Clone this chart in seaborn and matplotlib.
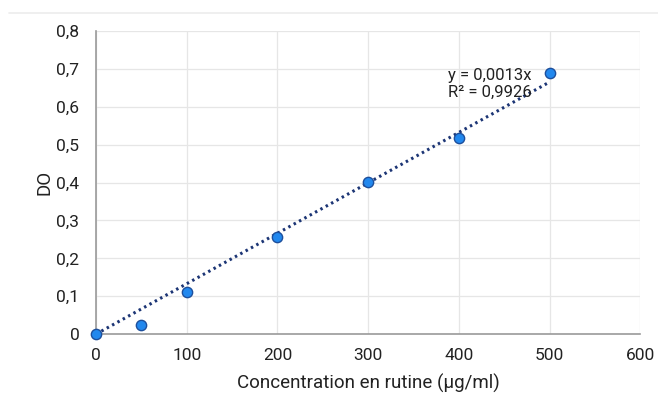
import matplotlib
matplotlib.use("Agg")
import matplotlib.pyplot as plt
import numpy as np
import pandas as pd
import seaborn as sns

# data
concentration = [0, 50, 100, 200, 300, 400, 500]
absorbance = [0.0, 0.023, 0.111, 0.256, 0.401, 0.518, 0.689]
x_ticks = [0, 100, 200, 300, 400, 500, 600]
y_ticks = [0, 0.1, 0.2, 0.3, 0.4, 0.5, 0.6, 0.7, 0.8]

df = pd.DataFrame({"conc": concentration, "do": absorbance})

sns.set_style("white")
plt.rcParams['font.family'] = ['Roboto', 'DejaVu Sans']

fig = plt.figure(figsize=(6.58, 3.94), dpi=100)
ax = fig.add_axes([0.146, 0.152, 0.827, 0.769])

# faint border line at the top of the chart area
fig.add_artist(plt.Line2D([0.014, 1.0], [0.967, 0.967], color="#ececec",
                          linewidth=1.2, transform=fig.transFigure))

# linear trend through origin
x = np.array(concentration, dtype=float)
y = np.array(absorbance, dtype=float)
slope = (x * y).sum() / (x * x).sum()
trend = pd.DataFrame({"conc": [0, 500], "do": [0, slope * 500]})
sns.lineplot(data=trend, x="conc", y="do", ax=ax, color="#1c3575",
             linestyle=(0, (0.8, 1.2)), linewidth=2.2, zorder=2)

sns.scatterplot(data=df, x="conc", y="do", ax=ax, s=55, color="#2288ee",
                edgecolor="#1d4f9c", linewidth=1.0, zorder=4, clip_on=False)

ax.set_xlim(0, 600)
ax.set_ylim(0, 0.8)
ax.set_xticks(x_ticks)
ax.set_yticks(y_ticks)
ax.set_xticklabels([str(t) for t in x_ticks])
ax.set_yticklabels([("%g" % t).replace(".", ",") for t in y_ticks])
ax.tick_params(labelsize=12.5, colors="#222222", length=0)
ax.tick_params(axis="x", pad=10)
ax.tick_params(axis="y", pad=12)
ax.grid(True, color="#e6e6e6", linewidth=0.9)
ax.set_axisbelow(True)

for s in ["top", "right"]:
    ax.spines[s].set_visible(False)
for s in ["left", "bottom"]:
    ax.spines[s].set_color("#9a9a9a")
    ax.spines[s].set_linewidth(1.2)

ax.set_xlabel("Concentration en rutine (µg/ml)", fontsize=13.5,
              color="#222222", labelpad=8)
ax.set_ylabel("DO", fontsize=13.5, color="#222222", labelpad=2)

ax.text(388, 0.66, "y = 0,0013x\nR² = 0,9926", fontsize=12,
        color="#222222", linespacing=1.15, va="center", ha="left")

fig.savefig("out.png", dpi=100)
